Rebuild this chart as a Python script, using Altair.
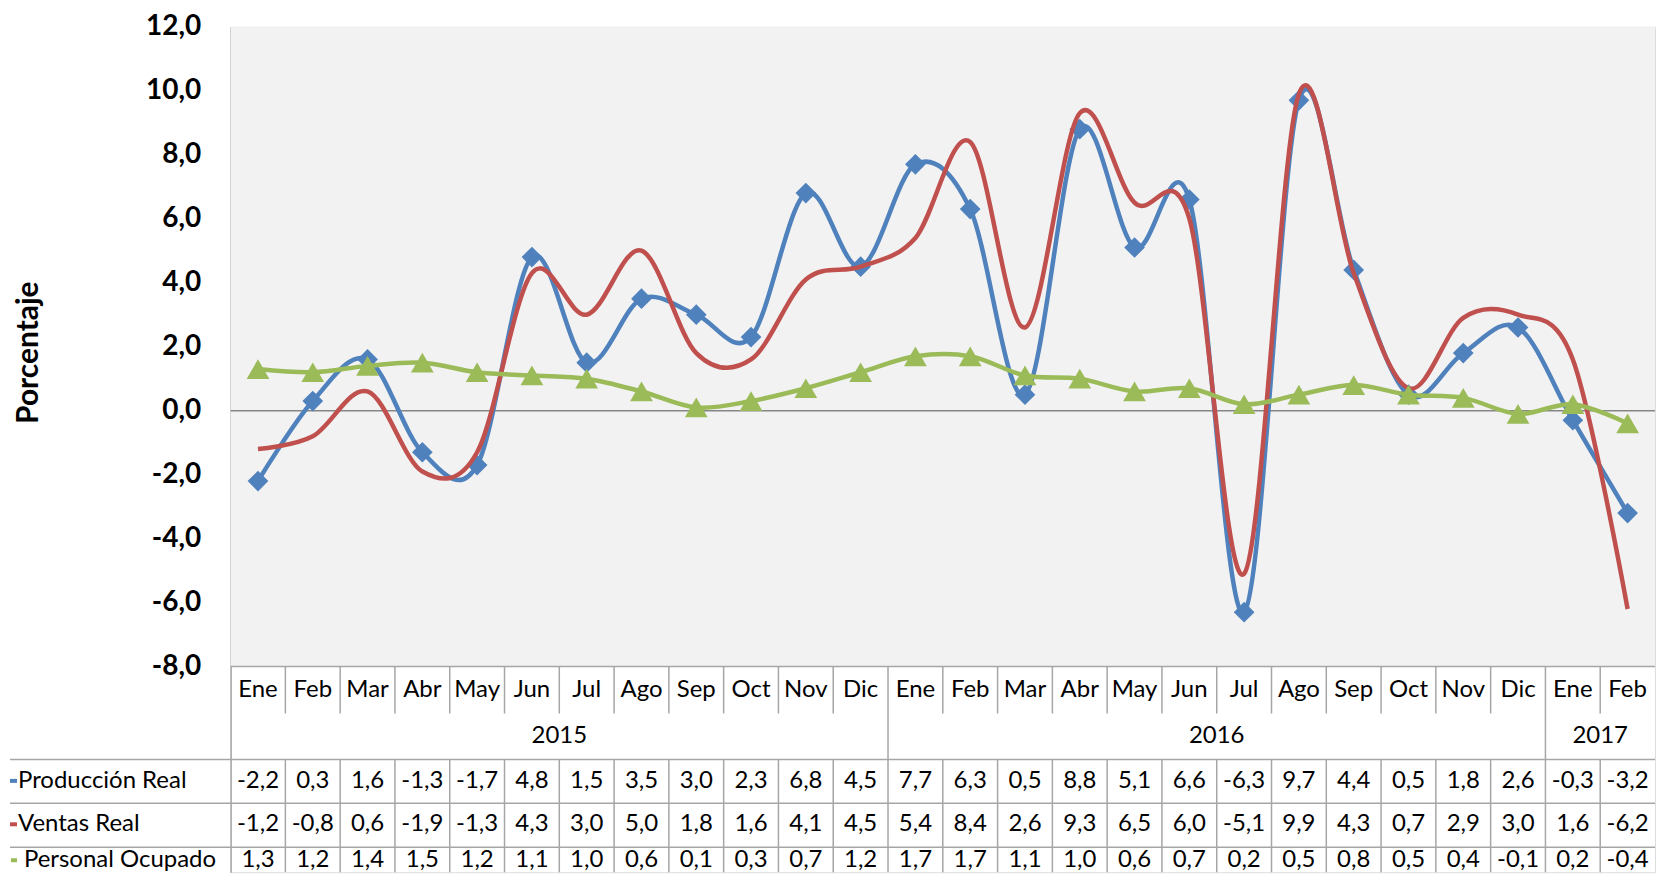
import altair as alt
import pandas as pd

# ---------------- data ----------------
months = ["Ene", "Feb", "Mar", "Abr", "May", "Jun", "Jul", "Ago", "Sep", "Oct", "Nov", "Dic",
          "Ene", "Feb", "Mar", "Abr", "May", "Jun", "Jul", "Ago", "Sep", "Oct", "Nov", "Dic",
          "Ene", "Feb"]
years = ["2015"] * 12 + ["2016"] * 12 + ["2017"] * 2
produccion = [-2.2, 0.3, 1.6, -1.3, -1.7, 4.8, 1.5, 3.5, 3.0, 2.3, 6.8, 4.5,
              7.7, 6.3, 0.5, 8.8, 5.1, 6.6, -6.3, 9.7, 4.4, 0.5, 1.8, 2.6, -0.3, -3.2]
ventas = [-1.2, -0.8, 0.6, -1.9, -1.3, 4.3, 3.0, 5.0, 1.8, 1.6, 4.1, 4.5,
          5.4, 8.4, 2.6, 9.3, 6.5, 6.0, -5.1, 9.9, 4.3, 0.7, 2.9, 3.0, 1.6, -6.2]
personal = [1.3, 1.2, 1.4, 1.5, 1.2, 1.1, 1.0, 0.6, 0.1, 0.3, 0.7, 1.2,
            1.7, 1.7, 1.1, 1.0, 0.6, 0.7, 0.2, 0.5, 0.8, 0.5, 0.4, -0.1, 0.2, -0.4]
series_names = ["Producción Real", "Ventas Real", "Personal Ocupado"]
series_values = [produccion, ventas, personal]
series_colors = ["#4F81BD", "#C0504D", "#9BBB59"]
y_ticks = [-8, -6, -4, -2, 0, 2, 4, 6, 8, 10, 12]
y_title = "Porcentaje"

# ---------------- layout (pixels) ----------------
N = len(months)
PW = 1427          # plot width
PH = 641           # height of the chart part (-8 .. 12)
YMIN, YMAX = -8, 12
ROW_EDGES_PX = [0, 47, 93, 137, 181, 206]    # table rows below plot bottom
TEXT_Y_PX = [23.5, 69.5, 114.5, 158, 194]    # text centers of rows
HEADER_PX = 221
UNIT = PH / (YMAX - YMIN)
COLW = PW / N
H = PH + ROW_EDGES_PX[-1]

FONT = "Lato"
GRID = "#A6A6A6"


def ypx(p):
    return YMIN - p / UNIT


def xpx(p):
    return p / COLW


YDOM = [ypx(ROW_EDGES_PX[-1]), YMAX]
xs = alt.Scale(domain=[0, N], nice=False, zero=False)
ys = alt.Scale(domain=YDOM, nice=False, zero=False)

y_axis = alt.Axis(
    values=y_ticks,
    labelExpr="(datum.value < 0 ? '-' : '') + replace(format(abs(datum.value), '.1f'), '.', ',')",
    grid=False, ticks=False,
    domainColor=GRID, domainWidth=1.5,
    labelFont=FONT, labelFontSize=28, labelFontWeight="bold", labelColor="#000000",
    labelPadding=30,
    title=y_title, titleFont=FONT, titleFontSize=30, titleFontWeight="bold",
    titleColor="#000000", titleAngle=270, titleX=26.5 - 229, titleY=326,
    titleAlign="center", titleBaseline="middle",
)


def X(f):
    return alt.X(f, type="quantitative", scale=xs, axis=None)


def Y(f):
    return alt.Y(f, type="quantitative", scale=ys, axis=y_axis)


# background of plot area
bg = alt.Chart(pd.DataFrame({"x": [0], "x2": [N], "y": [YMIN], "y2": [YMAX]})).mark_rect(
    color="#F2F2F2").encode(x=X("x"), x2="x2", y=Y("y"), y2="y2")

# table border segments
b = [ypx(p) for p in ROW_EDGES_PX]
segs = []
segs.append((0, N, b[0], b[0]))  # plot bottom
for i in range(1, N):
    if years[i] != years[i - 1]:
        segs.append((i, i, b[0], b[2]))
    else:
        segs.append((i, i, b[0], b[1]))
for i in range(1, N):
    segs.append((i, i, b[2], b[5]))
for k in (2, 3, 4):
    segs.append((xpx(-HEADER_PX), N, b[k], b[k]))
seg_df = pd.DataFrame(segs, columns=["x", "x2", "y", "y2"])
borders = alt.Chart(seg_df).mark_rule(color=GRID, strokeWidth=1.5).encode(
    x=X("x"), x2="x2", y=Y("y"), y2="y2")

zero = alt.Chart(pd.DataFrame({"x": [0], "x2": [N], "y": [0]})).mark_rule(
    color="#868686", strokeWidth=1.5).encode(x=X("x"), x2="x2", y=Y("y"))


# table texts
def fmt(v):
    return f"{v:.1f}".replace(".", ",")


cells = []
for i, m in enumerate(months):
    cells.append((i + 0.5, ypx(TEXT_Y_PX[0]), m))
start = 0
for i in range(1, N + 1):
    if i == N or years[i] != years[start]:
        cells.append(((start + i) / 2, ypx(TEXT_Y_PX[1]), years[start]))
        start = i
for r, vals in enumerate(series_values):
    for i, v in enumerate(vals):
        cells.append((i + 0.5, ypx(TEXT_Y_PX[2 + r]), fmt(v)))
cell_df = pd.DataFrame(cells, columns=["x", "y", "t"])
cell_text = alt.Chart(cell_df).mark_text(
    font=FONT, fontSize=24, color="#000000", align="center", baseline="middle").encode(
    x=X("x"), y=Y("y"), text="t:N")

hdr_df = pd.DataFrame({
    "x": [xpx(-213), xpx(-213), xpx(-207)],
    "y": [ypx(TEXT_Y_PX[2 + r]) for r in range(3)],
    "t": series_names,
})
hdr_text = alt.Chart(hdr_df).mark_text(
    font=FONT, fontSize=24, color="#000000", align="left", baseline="middle").encode(
    x=X("x"), y=Y("y"), text="t:N")

key_df = pd.DataFrame({
    "x": [xpx(-HEADER_PX), xpx(-HEADER_PX), xpx(-HEADER_PX + 1)],
    "x2": [xpx(-214), xpx(-214), xpx(-214)],
    "y": [ypx(TEXT_Y_PX[2 + r]) for r in range(3)],
    "s": series_names,
})
keys = alt.Chart(key_df).mark_rule(strokeWidth=4).encode(
    x=X("x"), x2="x2", y=Y("y"),
    color=alt.Color("s:N", scale=alt.Scale(domain=series_names, range=series_colors), legend=None))

# lines
layers = [bg, zero, borders, cell_text, hdr_text, keys]
shapes = ["diamond", None, "triangle-up"]
sizes = [430, 0, 520]
for name, vals, col, shp, sz in zip(series_names, series_values, series_colors, shapes, sizes):
    df = pd.DataFrame({"x": [i + 0.5 for i in range(N)], "v": vals})
    base = alt.Chart(df)
    layers.append(base.mark_line(interpolate="cardinal", tension=0, strokeWidth=4.5, color=col).encode(
        x=X("x"), y=Y("v")))
    if shp:
        layers.append(base.mark_point(shape=shp, filled=True, size=sz, color=col, opacity=1).encode(
            x=X("x"), y=Y("v")))

chart = alt.layer(*layers).properties(
    width=PW, height=H,
    padding={"top": 4, "left": 0, "right": 0, "bottom": 0},
).configure_view(stroke=None).configure(background="#FFFFFF")

chart.save("out.html", embed_options={"renderer": "svg", "actions": False})
